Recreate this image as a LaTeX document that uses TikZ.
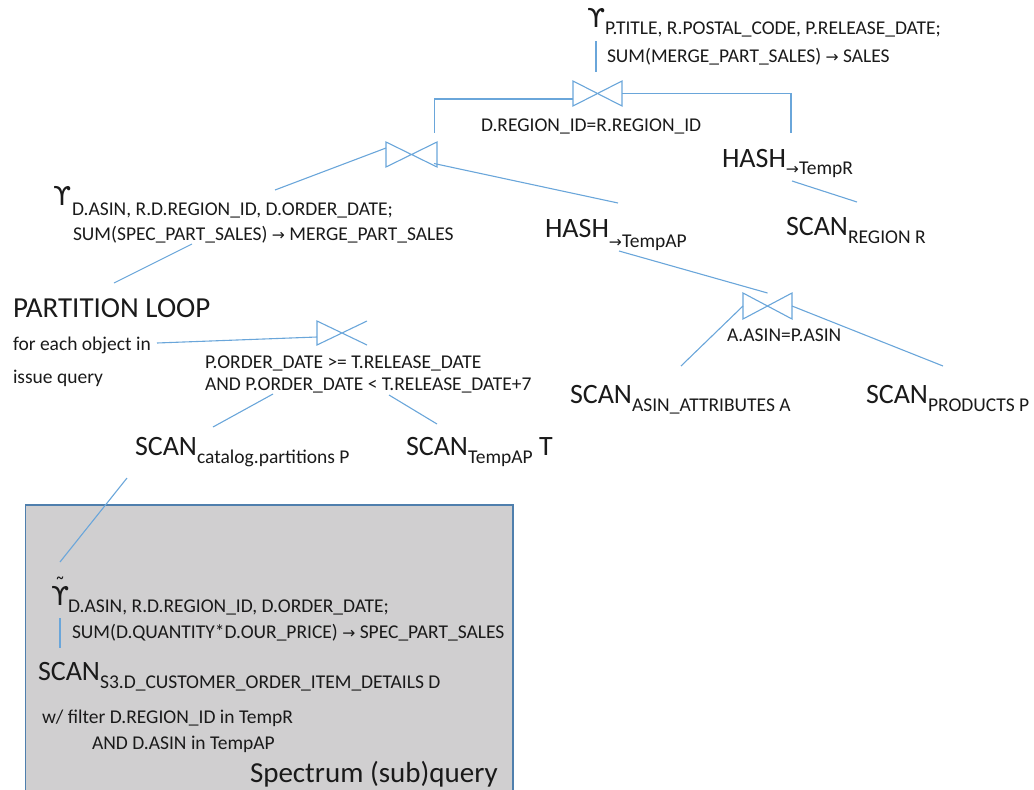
\documentclass[tikz,border=0pt]{standalone}
\usepackage{fontspec}
\setmainfont{Carlito}
\newfontfamily\dvs{DejaVu Sans}
\usetikzlibrary{calc}
\definecolor{lnblue}{HTML}{6AA6DA}
\definecolor{boxgray}{HTML}{D0CFD0}
\definecolor{boxedge}{HTML}{4F7FAD}
\definecolor{txt}{HTML}{1A1A1A}
\newcommand{\fsBig}{\fontsize{28}{32}\selectfont}
\newcommand{\fsPL}{\fontsize{29}{33}\selectfont}
\newcommand{\fsGam}{\fontsize{26}{30}\selectfont\dvs}
\newcommand{\fsSmall}{\fontsize{19.5}{23}\selectfont}
\newcommand{\subt}[2][8pt]{\raisebox{-#1}{\fsSmall #2}}
\newcommand{\arr}{{\dvs\scalebox{0.8}{→}}}
\begin{document}
\begin{tikzpicture}[x=1pt,y=-1pt,
  every node/.style={inner sep=0pt, outer sep=0pt, text=txt},
  txtnode/.style={anchor=base west, font=\fsSmall},
  bignode/.style={anchor=base west, font=\fsBig},
  gam/.style={anchor=base west, font=\fsGam},
  jn/.style={minimum width=49pt, minimum height=25pt, draw=none},
  ln/.style={draw=lnblue, line width=1.1pt}]
\useasboundingbox (0,0) rectangle (1034,790);

% Spectrum box
\path[fill=boxgray, draw=boxedge, line width=1.6pt] (25.5,505) rectangle (513,800);

% ---- top aggregation
\node[gam] (g1) at (587,27) {ϒ};
\node[txtnode] (g1a) at (605,34) {P.TITLE, R.POSTAL\_CODE, P.RELEASE\_DATE;};
\node[txtnode] (g1b) at (607,62) {SUM(MERGE\_PART\_SALES) \arr{} SALES};
\coordinate (g1bot) at (596,41);

% top join
\node[jn] (j1) at (597.5,93.5) {};
\draw[ln] (j1.north west) -- (j1.south west) -- (j1.north east) -- (j1.south east) -- cycle;
\node[txtnode] (l1) at (481,131) {D.REGION\_ID=R.REGION\_ID};
\draw[ln] (g1bot) -- ($(j1.north)+(-1.5,-9)$);

% hash R
\node[bignode] (hashR) at (722,167) {HASH\subt[7pt]{\arr TempR}};
\node[bignode] (scanR) at (786,235) {SCAN\subt{REGION R}};
\coordinate (hRb) at (792,181);
\coordinate (sRt) at (857,202);
\draw[ln] (hRb) -- (sRt);
\coordinate (hRt) at (791,133);
\draw[ln] (j1.east) -| (hRt);

% middle join
\node[jn, minimum width=51pt] (j2) at (411.5,154.5) {};
\draw[ln] (j2.north west) -- (j2.south west) -- (j2.north east) -- (j2.south east) -- cycle;
\draw[ln] ($(j1.west)+(0,5.5)$) -| ($(j2.north east)+(-2.5,-9)$);

% middle aggregation
\node[gam] (g2) at (53,205) {ϒ};
\node[txtnode] (g2a) at (72,215) {D.ASIN, R.D.REGION\_ID, D.ORDER\_DATE;};
\node[txtnode] (g2b) at (73,240) {SUM(SPEC\_PART\_SALES) \arr{} MERGE\_PART\_SALES};
\coordinate (g2t) at (275,190);
\draw[ln] (g2t) -- ($(j2.west)+(0,-6.5)$);

% hash AP
\node[bignode] (hashAP) at (545,237) {HASH\subt[10pt]{\arr TempAP}};
\coordinate (hAt) at (618,203);
\draw[ln] ($(j2.east)+(-3,9)$) -- (hAt);

% ASIN join
\node[jn, minimum height=26pt] (j4) at (767.5,306) {};
\draw[ln] (j4.north west) -- (j4.south west) -- (j4.north east) -- (j4.south east) -- cycle;
\node[txtnode] (l4) at (727,341) {A.ASIN=P.ASIN};
\coordinate (hAb) at (619,251);
\draw[ln] (hAb) -- (j4.north);
\node[bignode] (scanA) at (570,403) {SCAN\subt{ASIN\_ATTRIBUTES A}};
\node[bignode] (scanP) at (866,403) {SCAN\subt{PRODUCTS P}};
\coordinate (sAt) at (681,366);
\coordinate (sPt) at (943,366);
\draw[ln] (j4.west) -- (sAt);
\draw[ln] (j4.east) -- (sPt);

% partition loop
\node[anchor=base west, font=\fsPL] (pl) at (13,317) {PARTITION LOOP};
\coordinate (plt) at (114,283);
\coordinate (g2bot) at (192,244);
\draw[ln] (g2bot) -- (plt);
\node[txtnode] (pl1) at (13,350) {for each object in};
\node[txtnode] (pl2) at (13,383) {issue query};

% semi join
\node[jn, minimum width=50pt, minimum height=24pt] (j3) at (342,333) {};
\draw[ln] (j3.north east) -- (j3.south west) -- (j3.north west) -- (j3.south east);
\coordinate (pl1e) at (157,343);
\draw[ln] (pl1e) -- ($(j3.west)+(0,4)$);
\node[txtnode] (c1) at (205,368) {P.ORDER\_DATE >= T.RELEASE\_DATE};
\node[txtnode] (c2) at (205,390) {AND P.ORDER\_DATE < T.RELEASE\_DATE+7};

% scans
\node[bignode] (scanC) at (135,455) {SCAN\subt{catalog.partitions P}};
\node[bignode] (scanT) at (406,455) {SCAN\subt{TempAP} T};
\coordinate (c2a) at (273,394);
\coordinate (c2b) at (389,395);
\coordinate (sCt) at (213,427);
\coordinate (sTt) at (437,424);
\draw[ln] (c2a) -- (sCt);
\draw[ln] (c2b) -- (sTt);

% spectrum subquery
\node[gam] (g3) at (51,605) {\rlap{\hspace{4pt}\raisebox{13pt}{\fontsize{20}{20}\selectfont\char"02DC}}ϒ};
\node[txtnode] (g3a) at (68,612) {D.ASIN, R.D.REGION\_ID, D.ORDER\_DATE;};
\node[txtnode] (g3b) at (72,638) {SUM(D.QUANTITY*D.OUR\_PRICE) \arr{} SPEC\_PART\_SALES};
\coordinate (sCb) at (127,478);
\coordinate (g3top) at (60,562);
\draw[ln] (sCb) -- (g3top);
\node[bignode] (scanS) at (38,680) {SCAN\subt{S3.D\_CUSTOMER\_ORDER\_ITEM\_DETAILS D}};
\coordinate (g3bot) at (60,618);
\coordinate (sSt) at (60,648);
\draw[ln] (g3bot) -- (sSt);
\node[txtnode] (f1) at (42,723) {w/ filter D.REGION\_ID in TempR};
\node[txtnode] (f2) at (92,749) {AND D.ASIN in TempAP};
\node[anchor=base west, font=\fontsize{29}{33}\selectfont] (spec) at (250,782) {Spectrum (sub)query};
\end{tikzpicture}
\end{document}
